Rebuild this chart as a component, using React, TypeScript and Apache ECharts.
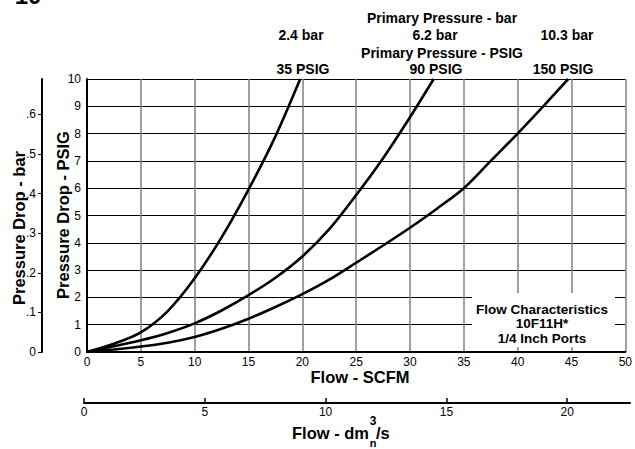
import React, { useEffect, useRef } from "react";
import * as echarts from "echarts";

// Flow (SCFM) vs pressure drop (PSIG) for each primary pressure
const flow35 = [0, 2.5, 5, 7.5, 10, 12.5, 15, 17.5, 19.8];
const drop35 = [0, 0.3, 0.72, 1.5, 2.7, 4.2, 5.95, 7.9, 10];

const flow90 = [0, 2.5, 5, 7.5, 10, 12.5, 15, 17.5, 20, 22.5, 25, 27.5, 30, 32.2];
const drop90 = [0, 0.21, 0.43, 0.7, 1.05, 1.52, 2.08, 2.72, 3.5, 4.5, 5.75, 7.1, 8.6, 10];

const flow150 = [0, 2.5, 5, 7.5, 10, 12.5, 15, 17.5, 20, 22.5, 25, 27.5, 30, 32.5, 35, 37.5, 40, 42.5, 44.7];
const drop150 = [0, 0.09, 0.2, 0.34, 0.55, 0.85, 1.22, 1.65, 2.12, 2.65, 3.27, 3.9, 4.55, 5.25, 6, 7.0, 8, 9.05, 10];

const barTicks = [0, 0.1, 0.2, 0.3, 0.4, 0.5, 0.6];
const dmTicks = [0, 5, 10, 15, 20];
const barTopLabels = ["2.4 bar", "6.2 bar", "10.3 bar"];
const psigTopLabels = ["35 PSIG", "90 PSIG", "150 PSIG"];
const noteLines = ["Flow Characteristics", "10F11H*", "1/4 Inch Ports"];

const PSI_PER_BAR = 14.5038;
const FONT = "'Liberation Sans', Arial, Helvetica, sans-serif";

function txt(text: string, x: number, y: number, size: number, extra: any = {}) {
  return {
    type: "text",
    x,
    y,
    rotation: extra.rotation || 0,
    style: {
      text,
      fontSize: size,
      fontWeight: "bold",
      fontFamily: FONT,
      fill: "#000",
      align: extra.align || "center",
      verticalAlign: "middle",
    },
    z: 100,
  };
}

export default function App() {
  const ref = useRef<HTMLDivElement>(null);
  useEffect(() => {
    const chart = echarts.init(ref.current!, null, { renderer: "svg" });
    const mk = (xs: number[], ys: number[]) => xs.map((x, i) => [x, ys[i]]);
    const lineSeries = (data: number[][]) => ({
      type: "line",
      xAxisIndex: 0,
      yAxisIndex: 0,
      data,
      showSymbol: false,
      smooth: 0.3,
      lineStyle: { color: "#000", width: 2.6 },
      z: 5,
    });
    const topXs = [301, 435, 567];
    const topPs = [303, 436, 563];
    chart.setOption({
      animation: false,
      textStyle: { fontFamily: FONT },
      grid: [
        { left: 87, top: 79, width: 542, height: 273 },
        { left: 84, top: 398, width: 546, height: 5 },
      ],
      xAxis: [
        {
          gridIndex: 0,
          type: "value",
          min: 0,
          max: 50,
          interval: 5,
          axisLine: { show: true, lineStyle: { color: "#000", width: 2 } },
          axisTick: { show: false },
          axisLabel: { color: "#000", fontSize: 12, margin: 4, fontFamily: FONT },
          splitLine: { show: true, lineStyle: { color: "#808080", width: 1.5 } },
        },
        {
          gridIndex: 1,
          type: "value",
          min: 0,
          max: 22.6,
          axisLine: { show: true, lineStyle: { color: "#000", width: 2 } },
          axisTick: { show: true, inside: true, length: 5, customValues: dmTicks, lineStyle: { color: "#000", width: 1.5 } },
          axisLabel: { color: "#000", fontSize: 12, margin: 3, customValues: dmTicks, fontFamily: FONT },
          splitLine: { show: false },
        },
      ],
      yAxis: [
        {
          gridIndex: 0,
          type: "value",
          min: 0,
          max: 10,
          interval: 1,
          axisLine: { show: true, lineStyle: { color: "#000", width: 2 } },
          axisTick: { show: false },
          axisLabel: { color: "#000", fontSize: 12, margin: 6, fontFamily: FONT },
          splitLine: { show: true, lineStyle: { color: "#000", width: 1 } },
        },
        {
          gridIndex: 0,
          type: "value",
          position: "left",
          offset: 45,
          min: 0,
          max: 10 / PSI_PER_BAR,
          axisLine: { show: true, lineStyle: { color: "#000", width: 2 } },
          axisTick: { show: true, length: 4, customValues: barTicks, lineStyle: { color: "#000", width: 1 } },
          axisLabel: {
            color: "#000",
            fontSize: 12,
            margin: 6,
            customValues: barTicks,
            fontFamily: FONT,
            formatter: (v: number) => (v === 0 ? "0" : "." + Math.round(v * 10)),
          },
          splitLine: { show: false },
        },
        { gridIndex: 1, type: "value", show: false, min: 0, max: 1 },
      ],
      series: [
        lineSeries(mk(flow35, drop35)),
        lineSeries(mk(flow90, drop90)),
        lineSeries(mk(flow150, drop150)),
        { type: "line", xAxisIndex: 1, yAxisIndex: 2, data: [] },
      ],
      graphic: [
        txt("10", 28, -5, 24),
        txt("Primary Pressure - bar", 442, 18, 14),
        ...barTopLabels.map((t, i) => txt(t, topXs[i], 34.5, 14)),
        txt("Primary Pressure - PSIG", 442, 53, 14),
        ...psigTopLabels.map((t, i) => txt(t, topPs[i], 69, 14)),
        txt("Pressure Drop - bar", 19, 228, 16.5, { rotation: Math.PI / 2 }),
        txt("Pressure Drop - PSIG", 63, 215, 16.5, { rotation: Math.PI / 2 }),
        txt("Flow - SCFM", 360, 377, 16.5),
        txt("Flow - dm", 369, 433, 16.5, { align: "right" }),
        txt("3", 373, 421, 12),
        txt("/s", 376, 433, 16.5, { align: "left" }),
        txt("n", 373, 443, 11),
        {
          type: "rect",
          shape: { x: 472, y: 293, width: 143, height: 54 },
          style: { fill: "#fff" },
          z: 90,
        },
        ...noteLines.map((t, i) => txt(t, 542, 309 + i * 14.5, 13.5)),
      ],
    });
    return () => chart.dispose();
  }, []);
  return (
    <div
      ref={ref}
      style={{ position: "fixed", left: 0, top: 0, width: 635, height: 449, background: "#fff" }}
    />
  );
}
